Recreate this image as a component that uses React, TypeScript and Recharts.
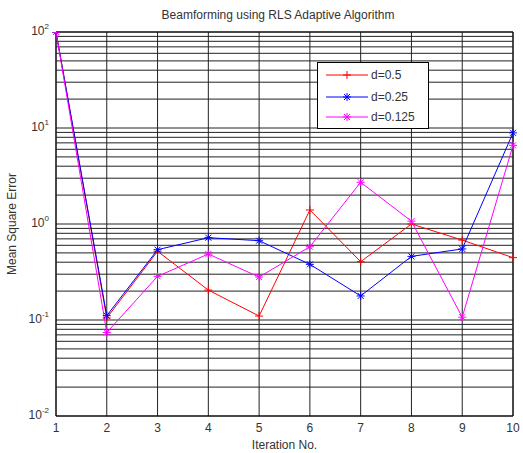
import React from "react";
import { LineChart, Line, XAxis, YAxis, CartesianGrid, ReferenceLine, ReferenceArea, Legend } from "recharts";

const iterations = [1, 2, 3, 4, 5, 6, 7, 8, 9, 10];
const mseD050 = [100, 0.105, 0.52, 0.205, 0.11, 1.4, 0.405, 1.0, 0.68, 0.446];
const mseD025 = [100, 0.111, 0.54, 0.72, 0.67, 0.38, 0.178, 0.46, 0.55, 8.9];
const mseD0125 = [100, 0.074, 0.285, 0.487, 0.28, 0.58, 2.72, 1.07, 0.107, 6.6];

const yTicks = [0.01, 0.1, 1, 10, 100];
const yTickExp = ["-2", "-1", "0", "1", "2"];
const minorMultipliers = [2, 3, 4, 5, 6, 7, 8, 9];
const decades = [0.01, 0.1, 1, 10];
const minorGrid = decades.flatMap((d) => minorMultipliers.map((m) => +(d * m).toPrecision(3)));

const seriesNames = ["d=0.5", "d=0.25", "d=0.125"];
const seriesKeys = ["d050", "d025", "d0125"];
const seriesColors = ["#ff0000", "#0000ff", "#ff00ff"];
const seriesMarkers = ["plus", "star", "star"];

const data = iterations.map((it, i) => ({
  it,
  d050: mseD050[i],
  d025: mseD025[i],
  d0125: mseD0125[i],
}));

const FONT = "'Liberation Sans', Arial, sans-serif";
const TXT = "#333";

function Marker({ cx, cy, color, kind, r = 4 }: any) {
  if (cx == null || cy == null) return null;
  const lines = [
    [cx - r, cy, cx + r, cy],
    [cx, cy - r, cx, cy + r],
  ];
  if (kind === "star") {
    const d = r * 0.75;
    lines.push([cx - d, cy - d, cx + d, cy + d]);
    lines.push([cx - d, cy + d, cx + d, cy - d]);
  }
  return (
    <g>
      {lines.map((l, i) => (
        <line key={i} x1={l[0]} y1={l[1]} x2={l[2]} y2={l[3]} stroke={color} strokeWidth={1} />
      ))}
    </g>
  );
}

const YTick = ({ x, y, payload }: any) => {
  const idx = yTicks.indexOf(payload.value);
  const exp = idx >= 0 ? yTickExp[idx] : "";
  return (
    <text x={x - 7} y={y + 3} textAnchor="end" fontSize={12} fontFamily={FONT} fill={TXT}>
      10
      <tspan dy={-6} fontSize={8}>
        {exp}
      </tspan>
    </text>
  );
};

const XTick = ({ x, y, payload }: any) => (
  <text x={x} y={y + 16} textAnchor="middle" fontSize={12} fontFamily={FONT} fill={TXT}>
    {payload.value}
  </text>
);

const LegendBox = () => (
  <div
    style={{
      width: 112,
      height: 67,
      boxSizing: "border-box",
      border: "1px solid #000",
      background: "#fff",
      position: "relative",
      fontFamily: FONT,
      fontSize: 12,
      color: TXT,
    }}
  >
    {seriesNames.map((n, i) => {
      const top = [12, 34, 54][i];
      return (
        <div key={n} style={{ position: "absolute", left: 0, top: top - 8, height: 16, width: 110 }}>
          <svg width={52} height={16} style={{ position: "absolute", left: 0, top: 0 }}>
            <line x1={8} y1={8} x2={50} y2={8} stroke={seriesColors[i]} strokeWidth={1} />
            <Marker cx={29} cy={8} color={seriesColors[i]} kind={seriesMarkers[i]} />
          </svg>
          <span style={{ position: "absolute", left: 53, top: 0, lineHeight: "16px" }}>{n}</span>
        </div>
      );
    })}
  </div>
);

export default function App() {
  return (
    <div style={{ position: "absolute", left: 0, top: 0, width: 523, height: 453, background: "#fff", overflow: "hidden" }}>
      <div
        style={{
          position: "absolute",
          left: 0,
          width: 556,
          top: 8,
          textAlign: "center",
          fontFamily: FONT,
          fontSize: 12,
          color: TXT,
          lineHeight: "14px",
        }}
      >
        Beamforming using RLS Adaptive Algorithm
      </div>
      <LineChart width={523} height={453} data={data} margin={{ top: 32, right: 10, left: 0, bottom: 0 }}>
        <CartesianGrid stroke="#222" strokeWidth={1} fill="none" />
        {minorGrid.map((v) => (
          <ReferenceLine key={v} y={v} stroke="#222" strokeWidth={1} />
        ))}
        <XAxis
          dataKey="it"
          type="number"
          domain={[1, 10]}
          ticks={iterations}
          tick={<XTick />}
          tickSize={0}
          tickMargin={0}
          axisLine={false}
          height={37}
          label={{ value: "Iteration No.", position: "insideBottom", offset: 4, fontSize: 12, fill: TXT, fontFamily: FONT }}
        />
        <YAxis
          type="number"
          scale="log"
          domain={[0.01, 100]}
          ticks={yTicks}
          allowDataOverflow
          tick={<YTick />}
          tickSize={0}
          tickMargin={0}
          axisLine={false}
          width={56}
          label={{ value: "Mean Square Error", angle: -90, position: "insideLeft", offset: 12, fontSize: 12, fill: TXT, fontFamily: FONT, style: { textAnchor: "middle" } }}
        />
        <ReferenceArea x1={1} x2={10} y1={0.01} y2={100} fill="none" fillOpacity={0} stroke="#000" strokeWidth={1} />
        {seriesKeys.map((k, i) => (
          <Line
            key={k}
            dataKey={k}
            name={seriesNames[i]}
            stroke={seriesColors[i]}
            strokeWidth={1}
            isAnimationActive={false}
            dot={(p: any) => <Marker key={`${k}-${p.index}`} cx={p.cx} cy={p.cy} color={seriesColors[i]} kind={seriesMarkers[i]} />}
            activeDot={false}
          />
        ))}
        <Legend
          layout="vertical"
          align="center"
          verticalAlign="middle"
          wrapperStyle={{ left: 317, top: 62, width: 112, height: 67 }}
          content={() => <LegendBox />}
        />
      </LineChart>
    </div>
  );
}
